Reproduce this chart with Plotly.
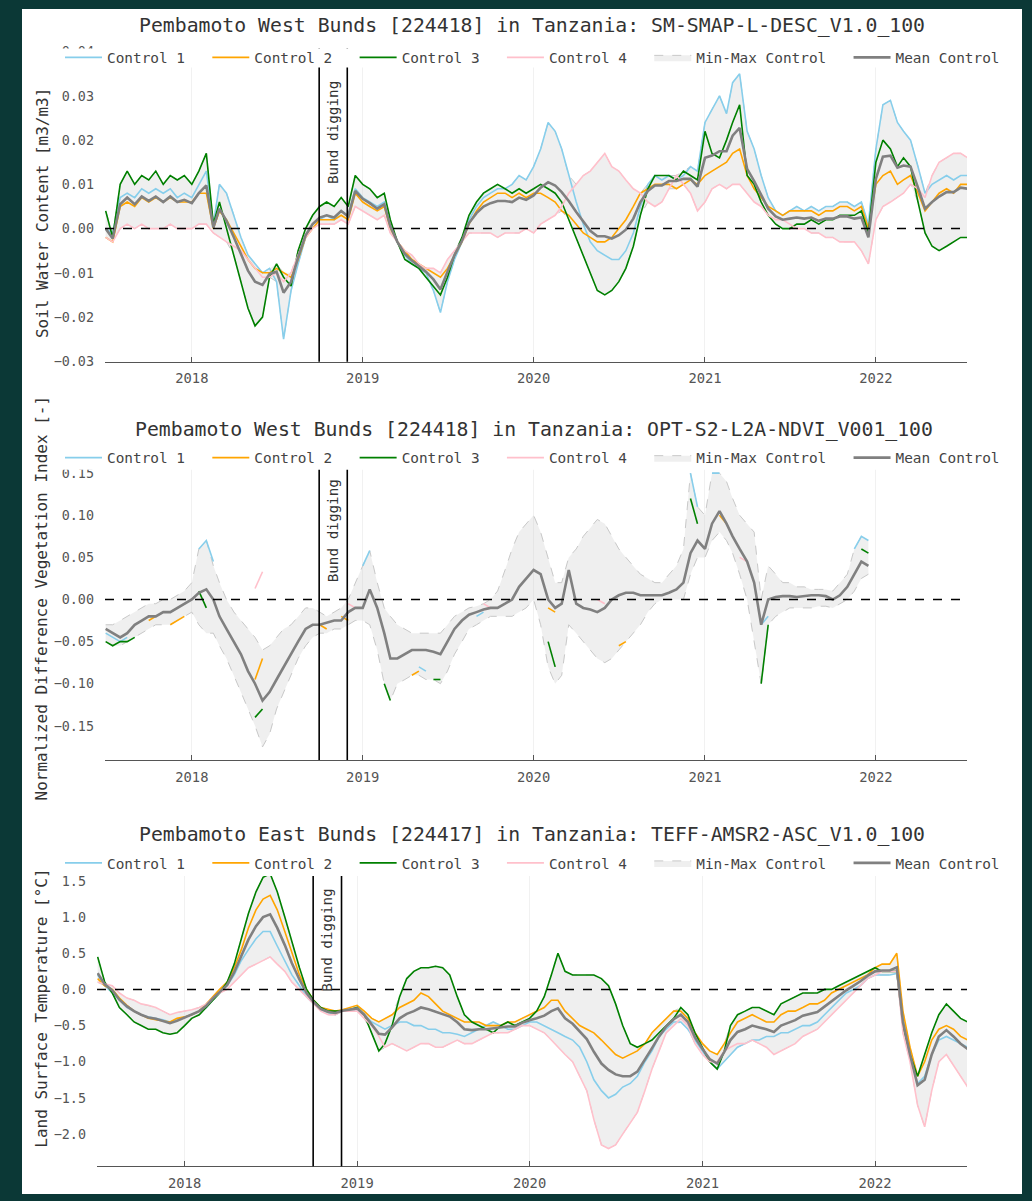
import numpy as np
import pandas as pd
import plotly.graph_objects as go

FIG_W, FIG_H = 1032, 1201
MONO = "DejaVu Sans Mono"
FRAME = "#0b3836"

# Semi-monthly sampling dates (1st and 16th of each month)
month_starts = pd.date_range("2017-07-01", "2022-07-01", freq="MS")
dates = []
for m in month_starts:
    dates.append(m)
    dates.append(m + pd.Timedelta(days=15))
dates = pd.DatetimeIndex(dates)

control_names = ["Control 1", "Control 2", "Control 3", "Control 4"]
control_colors = ["#87ceeb", "#ffa500", "#008000", "#ffc0cb"]
bund_start, bund_end = "2018-09-30", "2018-11-29"
year_ticks = ["2018-01-01", "2019-01-01", "2020-01-01", "2021-01-01", "2022-01-01"]
year_labels = ["2018", "2019", "2020", "2021", "2022"]

titles = [
    "Pembamoto West Bunds [224418] in Tanzania: SM-SMAP-L-DESC_V1.0_100",
    "Pembamoto West Bunds [224418] in Tanzania: OPT-S2-L2A-NDVI_V001_100",
    "Pembamoto East Bunds [224417] in Tanzania: TEFF-AMSR2-ASC_V1.0_100",
]
y_titles = [
    "Soil Water Content [m3/m3]",
    "Normalized Difference Vegetation Index [-]",
    "Land Surface Temperature [°C]",
]

# ---------------- Soil moisture (SMAP) ----------------
sm_c1 = [0.000, -0.001, 0.007, 0.008, 0.007, 0.009, 0.008, 0.009, 0.008, 0.009, 0.007, 0.008,
         0.007, 0.010, 0.013, 0.001, 0.010, 0.008, 0.003, -0.002, -0.006, -0.008, -0.010, -0.009,
         -0.012, -0.025, -0.014, -0.008, -0.002, 0.001, 0.002, 0.003, 0.002, 0.004, 0.003, 0.009,
         0.007, 0.006, 0.005, 0.006, 0.001, -0.003, -0.006, -0.008, -0.009, -0.010, -0.014, -0.019,
         -0.012, -0.007, -0.003, 0.002, 0.005, 0.007, 0.008, 0.009, 0.009, 0.010, 0.012, 0.011,
         0.014, 0.018, 0.024, 0.022, 0.018, 0.012, 0.006, 0.001, -0.003, -0.005, -0.006, -0.007,
         -0.007, -0.005, -0.001, 0.005, 0.010, 0.012, 0.011, 0.012, 0.011, 0.012, 0.014, 0.013,
         0.024, 0.027, 0.030, 0.026, 0.033, 0.035, 0.022, 0.018, 0.012, 0.007, 0.004, 0.003,
         0.004, 0.005, 0.004, 0.005, 0.004, 0.005, 0.005, 0.006, 0.006, 0.005, 0.006, 0.001,
         0.018, 0.028, 0.029, 0.024, 0.022, 0.020, 0.014, 0.008, 0.010, 0.011, 0.012, 0.011,
         0.012, 0.012]
sm_c2 = [-0.002, -0.003, 0.005, 0.006, 0.005, 0.007, 0.006, 0.007, 0.006, 0.007, 0.006, 0.006,
         0.006, 0.008, 0.008, 0.000, 0.004, 0.002, -0.001, -0.004, -0.007, -0.009, -0.010, -0.010,
         -0.009, -0.010, -0.011, -0.007, -0.002, 0.000, 0.002, 0.002, 0.002, 0.003, 0.002, 0.008,
         0.006, 0.005, 0.004, 0.005, 0.000, -0.003, -0.005, -0.007, -0.008, -0.009, -0.010, -0.011,
         -0.009, -0.006, -0.003, 0.001, 0.004, 0.006, 0.007, 0.008, 0.008, 0.007, 0.008, 0.007,
         0.008, 0.008, 0.007, 0.006, 0.004, 0.003, 0.001, -0.001, -0.002, -0.003, -0.003, -0.002,
         0.000, 0.002, 0.005, 0.008, 0.009, 0.010, 0.010, 0.010, 0.009, 0.010, 0.011, 0.010,
         0.012, 0.013, 0.014, 0.015, 0.017, 0.018, 0.012, 0.009, 0.007, 0.005, 0.004, 0.003,
         0.004, 0.004, 0.004, 0.004, 0.003, 0.004, 0.004, 0.005, 0.005, 0.004, 0.005, 0.000,
         0.010, 0.012, 0.013, 0.010, 0.011, 0.012, 0.008, 0.004, 0.006, 0.008, 0.009, 0.008,
         0.010, 0.010]
sm_c3 = [0.004, -0.002, 0.010, 0.013, 0.010, 0.012, 0.011, 0.013, 0.010, 0.012, 0.011, 0.012,
         0.010, 0.013, 0.017, 0.001, 0.006, 0.000, -0.006, -0.012, -0.018, -0.022, -0.020, -0.011,
         -0.008, -0.011, -0.013, -0.005, 0.000, 0.003, 0.005, 0.006, 0.005, 0.007, 0.005, 0.012,
         0.010, 0.009, 0.007, 0.008, 0.002, -0.003, -0.007, -0.008, -0.009, -0.011, -0.013, -0.015,
         -0.011, -0.006, -0.002, 0.003, 0.006, 0.008, 0.009, 0.010, 0.009, 0.008, 0.009, 0.008,
         0.009, 0.010, 0.009, 0.008, 0.006, 0.002, -0.002, -0.006, -0.010, -0.014, -0.015, -0.014,
         -0.012, -0.009, -0.004, 0.003, 0.009, 0.012, 0.012, 0.012, 0.011, 0.013, 0.012, 0.011,
         0.022, 0.017, 0.016, 0.020, 0.024, 0.028, 0.012, 0.010, 0.006, 0.003, 0.001, 0.000,
         0.000, 0.001, 0.001, 0.002, 0.001, 0.002, 0.002, 0.003, 0.003, 0.003, 0.004, -0.001,
         0.015, 0.020, 0.018, 0.014, 0.016, 0.014, 0.006, -0.001, -0.004, -0.005, -0.004, -0.003,
         -0.002, -0.002]
sm_c4 = [-0.002, -0.003, 0.000, 0.001, 0.000, 0.001, 0.000, 0.000, 0.000, 0.001, 0.000, 0.000,
         0.000, 0.001, 0.001, -0.001, -0.002, -0.003, -0.004, -0.005, -0.007, -0.009, -0.011, -0.011,
         -0.010, -0.012, -0.010, -0.006, -0.002, 0.000, 0.001, 0.001, 0.001, 0.002, 0.001, 0.005,
         0.004, 0.003, 0.002, 0.003, -0.001, -0.003, -0.005, -0.006, -0.008, -0.009, -0.009, -0.010,
         -0.007, -0.005, -0.003, -0.001, -0.001, -0.001, -0.001, -0.002, -0.001, -0.001, -0.001, 0.000,
         -0.001, 0.001, 0.002, 0.003, 0.005, 0.008, 0.010, 0.012, 0.013, 0.015, 0.017, 0.014,
         0.013, 0.011, 0.009, 0.008, 0.006, 0.005, 0.006, 0.009, 0.012, 0.010, 0.008, 0.004,
         0.006, 0.009, 0.010, 0.009, 0.010, 0.010, 0.008, 0.006, 0.005, 0.003, 0.002, 0.002,
         0.001, 0.000, 0.000, -0.001, -0.001, -0.002, -0.002, -0.003, -0.003, -0.003, -0.005, -0.008,
         0.002, 0.005, 0.006, 0.007, 0.008, 0.010, 0.009, 0.007, 0.012, 0.015, 0.016, 0.017,
         0.017, 0.016]

# ---------------- NDVI (Sentinel-2) ----------------
ndvi_mean = [-0.035, -0.040, -0.045, -0.040, -0.030, -0.025, -0.020, -0.020, -0.015, -0.015, -0.010, -0.005,
             0.000, 0.008, 0.012, 0.000, -0.020, -0.035, -0.050, -0.065, -0.085, -0.100, -0.120, -0.110,
             -0.095, -0.080, -0.065, -0.050, -0.035, -0.030, -0.030, -0.028, -0.025, -0.025, -0.015, -0.010,
             -0.010, 0.012, -0.010, -0.040, -0.070, -0.070, -0.065, -0.060, -0.060, -0.060, -0.062, -0.065,
             -0.050, -0.035, -0.025, -0.018, -0.015, -0.012, -0.010, -0.010, -0.005, 0.000, 0.015, 0.025,
             0.035, 0.030, 0.000, -0.010, -0.005, 0.035, -0.005, -0.010, -0.012, -0.015, -0.010, 0.000,
             0.005, 0.008, 0.008, 0.005, 0.005, 0.005, 0.005, 0.008, 0.012, 0.020, 0.055, 0.070,
             0.060, 0.090, 0.105, 0.090, 0.075, 0.060, 0.045, 0.020, -0.030, 0.000, 0.003, 0.004,
             0.004, 0.003, 0.004, 0.005, 0.005, 0.004, 0.000, 0.005, 0.015, 0.030, 0.045, 0.040]
ndvi_low = [-0.050, -0.055, -0.055, -0.050, -0.045, -0.040, -0.035, -0.030, -0.030, -0.030, -0.025, -0.020,
            -0.015, -0.030, -0.040, -0.040, -0.055, -0.070, -0.090, -0.110, -0.130, -0.150, -0.175, -0.160,
            -0.130, -0.110, -0.090, -0.070, -0.055, -0.045, -0.040, -0.040, -0.035, -0.035, -0.030, -0.025,
            -0.025, -0.030, -0.060, -0.100, -0.120, -0.100, -0.095, -0.090, -0.090, -0.095, -0.095, -0.100,
            -0.085, -0.065, -0.050, -0.035, -0.030, -0.025, -0.020, -0.020, -0.020, -0.020, -0.015, -0.010,
            0.000, -0.030, -0.080, -0.100, -0.090, -0.030, -0.040, -0.050, -0.060, -0.070, -0.075, -0.070,
            -0.060, -0.050, -0.040, -0.030, -0.015, -0.005, 0.000, 0.000, 0.000, 0.000, 0.030, 0.050,
            0.050, 0.070, 0.080, 0.070, 0.055, 0.030, 0.000, -0.050, -0.100, -0.030, -0.020, -0.015,
            -0.010, -0.010, -0.010, -0.010, -0.008, -0.008, -0.010, -0.005, 0.000, 0.010, 0.025, 0.030]
ndvi_high = [-0.030, -0.030, -0.025, -0.020, -0.015, -0.010, -0.005, -0.005, 0.000, 0.000, 0.005, 0.010,
             0.020, 0.060, 0.070, 0.040, 0.020, 0.000, -0.015, -0.025, -0.035, -0.045, -0.060, -0.055,
             -0.045, -0.035, -0.030, -0.020, -0.010, -0.010, -0.015, -0.020, -0.015, -0.010, 0.000, 0.020,
             0.040, 0.058, 0.020, -0.010, -0.020, -0.030, -0.035, -0.040, -0.040, -0.040, -0.040, -0.040,
             -0.030, -0.020, -0.015, -0.010, -0.008, -0.005, 0.000, 0.010, 0.035, 0.060, 0.080, 0.090,
             0.100, 0.080, 0.050, 0.020, 0.020, 0.050, 0.060, 0.075, 0.085, 0.095, 0.090, 0.075,
             0.060, 0.050, 0.040, 0.030, 0.025, 0.020, 0.020, 0.030, 0.040, 0.060, 0.150, 0.110,
             0.100, 0.150, 0.150, 0.140, 0.120, 0.100, 0.090, 0.080, 0.000, 0.040, 0.030, 0.020,
             0.020, 0.015, 0.015, 0.012, 0.012, 0.012, 0.010, 0.020, 0.030, 0.060, 0.075, 0.070]

# cloud-free fragments of the individual controls (None breaks the line)
ndvi_c1_dates = ["2017-07-01", "2017-07-16", "2017-08-01", "2017-08-16", None,
                 "2018-01-16", "2018-02-01", "2018-02-16", None,
                 "2019-01-01", "2019-01-16", None,
                 "2019-05-01", "2019-05-16", None,
                 "2019-09-01", "2019-09-16", None,
                 "2020-12-01", "2020-12-16", None,
                 "2021-01-16", "2021-02-01", None,
                 "2021-05-01", "2021-05-16", None,
                 "2021-11-16", "2021-12-01", "2021-12-16"]
ndvi_c1 = [-0.040, -0.045, -0.050, -0.045, None,
           0.060, 0.070, 0.045, None,
           0.040, 0.058, None,
           -0.080, -0.085, None,
           -0.020, -0.015, None,
           0.150, 0.110, None,
           0.150, 0.150, None,
           -0.030, -0.020, None,
           0.060, 0.075, 0.070]
ndvi_c2_dates = ["2017-10-01", "2017-10-16", None,
                 "2017-11-16", "2017-12-01", "2017-12-16", None,
                 "2018-05-16", "2018-06-01", None,
                 "2018-10-01", "2018-10-16", None,
                 "2018-11-16", "2018-12-01", None,
                 "2019-04-16", "2019-05-01", None,
                 "2020-02-01", "2020-02-16", None,
                 "2020-07-01", "2020-07-16", None,
                 "2021-02-01", "2021-02-16"]
ndvi_c2 = [-0.025, -0.020, None,
           -0.030, -0.025, -0.020, None,
           -0.095, -0.070, None,
           -0.030, -0.035, None,
           -0.020, -0.025, None,
           -0.090, -0.085, None,
           -0.010, -0.015, None,
           -0.055, -0.050, None,
           0.100, 0.090]
ndvi_c3_dates = ["2017-07-01", "2017-07-16", "2017-08-01", "2017-08-16", "2017-09-01", None,
                 "2018-01-16", "2018-02-01", None,
                 "2018-05-16", "2018-06-01", None,
                 "2019-02-16", "2019-03-01", None,
                 "2019-06-01", "2019-06-16", None,
                 "2020-02-01", "2020-02-16", None,
                 "2020-12-01", "2020-12-16", None,
                 "2021-05-01", "2021-05-16", None,
                 "2021-12-01", "2021-12-16"]
ndvi_c3 = [-0.050, -0.055, -0.050, -0.050, -0.045, None,
           0.010, -0.010, None,
           -0.140, -0.130, None,
           -0.100, -0.120, None,
           -0.095, -0.095, None,
           -0.050, -0.080, None,
           0.120, 0.090, None,
           -0.100, -0.030, None,
           0.060, 0.055]
ndvi_c4_dates = ["2018-05-16", "2018-06-01", None,
                 "2018-12-01", "2018-12-16", None,
                 "2019-09-16", "2019-10-01", None,
                 "2020-05-16", "2020-06-01", None,
                 "2021-03-16", "2021-04-01"]
ndvi_c4 = [0.013, 0.033, None,
           -0.005, -0.010, None,
           -0.005, -0.010, None,
           0.000, -0.005, None,
           0.050, 0.045]

# ---------------- Land surface temperature (AMSR2) ----------------
lst_c1 = [0.20, 0.05, -0.05, -0.15, -0.25, -0.30, -0.35, -0.38, -0.40, -0.42, -0.45, -0.42,
          -0.38, -0.35, -0.30, -0.25, -0.15, -0.05, 0.05, 0.20, 0.40, 0.55, 0.70, 0.80,
          0.80, 0.60, 0.40, 0.20, 0.05, -0.10, -0.20, -0.28, -0.32, -0.35, -0.30, -0.30,
          -0.28, -0.35, -0.45, -0.50, -0.55, -0.50, -0.45, -0.45, -0.50, -0.50, -0.55, -0.55,
          -0.60, -0.60, -0.62, -0.65, -0.60, -0.55, -0.50, -0.45, -0.50, -0.55, -0.55, -0.50,
          -0.45, -0.45, -0.50, -0.55, -0.60, -0.65, -0.70, -0.80, -1.00, -1.25, -1.40, -1.50,
          -1.45, -1.35, -1.30, -1.20, -1.00, -0.85, -0.65, -0.55, -0.45, -0.45, -0.55, -0.70,
          -0.85, -1.00, -1.10, -1.00, -0.90, -0.80, -0.75, -0.70, -0.70, -0.65, -0.65, -0.60,
          -0.60, -0.55, -0.50, -0.50, -0.45, -0.35, -0.25, -0.15, -0.05, 0.00, 0.05, 0.15,
          0.20, 0.20, 0.20, 0.22, -0.40, -0.90, -1.30, -1.20, -0.90, -0.70, -0.65, -0.70,
          -0.75, -0.80]
lst_c2 = [0.15, 0.05, 0.00, -0.12, -0.22, -0.30, -0.35, -0.40, -0.42, -0.43, -0.45, -0.40,
          -0.38, -0.35, -0.30, -0.20, -0.10, 0.00, 0.10, 0.30, 0.55, 0.85, 1.10, 1.25,
          1.30, 1.10, 0.80, 0.50, 0.20, 0.00, -0.15, -0.25, -0.28, -0.30, -0.28, -0.25,
          -0.22, -0.30, -0.40, -0.45, -0.40, -0.35, -0.25, -0.20, -0.15, -0.05, -0.10, -0.20,
          -0.30, -0.35, -0.40, -0.45, -0.45, -0.45, -0.50, -0.50, -0.50, -0.45, -0.45, -0.40,
          -0.35, -0.30, -0.25, -0.15, -0.15, -0.30, -0.40, -0.50, -0.55, -0.60, -0.70, -0.80,
          -0.90, -0.95, -0.90, -0.85, -0.75, -0.60, -0.50, -0.40, -0.30, -0.30, -0.40, -0.60,
          -0.75, -0.85, -0.90, -0.75, -0.60, -0.45, -0.40, -0.35, -0.40, -0.45, -0.45, -0.35,
          -0.30, -0.30, -0.25, -0.20, -0.20, -0.15, -0.05, 0.00, 0.05, 0.10, 0.15, 0.20,
          0.30, 0.35, 0.35, 0.50, -0.30, -0.80, -1.20, -1.00, -0.70, -0.55, -0.50, -0.55,
          -0.65, -0.70]
lst_c3 = [0.45, 0.10, -0.05, -0.25, -0.35, -0.45, -0.50, -0.55, -0.55, -0.60, -0.62, -0.60,
          -0.50, -0.40, -0.35, -0.25, -0.15, -0.05, 0.10, 0.35, 0.70, 1.05, 1.35, 1.55,
          1.60, 1.35, 1.00, 0.65, 0.30, 0.00, -0.15, -0.25, -0.30, -0.30, -0.30, -0.28,
          -0.25, -0.35, -0.60, -0.85, -0.75, -0.50, -0.10, 0.15, 0.25, 0.30, 0.30, 0.32,
          0.30, 0.20, -0.10, -0.35, -0.45, -0.50, -0.55, -0.60, -0.50, -0.45, -0.50, -0.45,
          -0.40, -0.30, -0.10, 0.20, 0.50, 0.25, 0.20, 0.20, 0.20, 0.20, 0.15, 0.05,
          -0.20, -0.50, -0.75, -0.80, -0.75, -0.70, -0.60, -0.50, -0.40, -0.25, -0.35, -0.60,
          -0.80, -1.00, -1.10, -0.85, -0.50, -0.35, -0.30, -0.25, -0.25, -0.30, -0.35, -0.20,
          -0.15, -0.10, -0.05, -0.05, -0.05, 0.00, 0.00, 0.05, 0.10, 0.15, 0.20, 0.25,
          0.30, 0.25, 0.25, 0.25, -0.50, -0.90, -1.20, -0.90, -0.60, -0.35, -0.20, -0.30,
          -0.40, -0.45]
lst_c4 = [0.10, 0.08, 0.05, -0.05, -0.12, -0.15, -0.20, -0.22, -0.25, -0.30, -0.35, -0.32,
          -0.30, -0.28, -0.25, -0.20, -0.12, -0.05, 0.00, 0.10, 0.20, 0.30, 0.35, 0.40,
          0.45, 0.35, 0.25, 0.10, 0.00, -0.10, -0.20, -0.30, -0.35, -0.35, -0.30, -0.30,
          -0.30, -0.40, -0.50, -0.65, -0.80, -0.75, -0.80, -0.85, -0.80, -0.75, -0.75, -0.80,
          -0.80, -0.75, -0.70, -0.75, -0.75, -0.70, -0.65, -0.60, -0.60, -0.60, -0.55, -0.50,
          -0.50, -0.55, -0.60, -0.70, -0.80, -0.90, -1.00, -1.20, -1.40, -1.80, -2.15, -2.20,
          -2.15, -2.00, -1.85, -1.70, -1.40, -1.10, -0.85, -0.60, -0.50, -0.40, -0.50, -0.75,
          -0.90, -1.00, -1.00, -0.85, -0.80, -0.75, -0.75, -0.70, -0.75, -0.80, -0.90, -0.85,
          -0.80, -0.75, -0.65, -0.60, -0.55, -0.45, -0.35, -0.25, -0.15, -0.05, 0.05, 0.15,
          0.20, 0.25, 0.25, 0.25, -0.60, -1.00, -1.60, -1.90, -1.40, -1.00, -0.90, -1.05,
          -1.20, -1.35]

# ---------------- Figure geometry (pixels from top of page) ----------------
panels = [
    dict(left=105, top=45, bottom=361, yrange=[-0.0301, 0.0407], dtick=0.01, fmt=".2f",
         title_y=22, title_x=532, legend_y=54, cover=(45, 64), ylabel_y=211, bund_y=130),
    dict(left=105, top=465, bottom=763, yrange=[-0.1906, 0.160], dtick=0.05, fmt=".2f",
         title_y=429, title_x=534, legend_y=458, cover=(449, 470), ylabel_y=600, bund_y=532),
    dict(left=97, top=877, bottom=1173, yrange=[-2.445, 1.610], dtick=0.5, fmt=".1f",
         title_y=838, title_x=532, legend_y=867, cover=(858, 880), ylabel_y=1014, bund_y=945),
]
PLOT_RIGHT = 967
X_RANGE = ["2017-06-29 14:00", "2022-07-14 14:00"]


def py(p):
    return 1 - p / FIG_H


def px(p):
    return p / FIG_W


fig = go.Figure()
pad = "\u00a0" * 2


def add_panel(k, band_x, low, high, mean_x, mean, controls):
    xa = "x" if k == 0 else f"x{k + 1}"
    ya = "y" if k == 0 else f"y{k + 1}"
    leg = "legend" if k == 0 else f"legend{k + 1}"
    edge = dict(color="#c8c8c8", width=1, dash="dash")
    fig.add_trace(go.Scatter(x=band_x, y=high, mode="lines", line=edge, xaxis=xa, yaxis=ya,
                             showlegend=False, legend=leg, connectgaps=True, hoverinfo="skip"))
    fig.add_trace(go.Scatter(x=band_x, y=low, mode="lines", line=edge, fill="tonexty",
                             fillcolor="rgba(205,205,205,0.32)", xaxis=xa, yaxis=ya,
                             name="Min-Max Control" + pad, legend=leg, legendrank=5,
                             connectgaps=True, hoverinfo="skip"))
    for i, (cx, cy) in enumerate(controls):
        fig.add_trace(go.Scatter(x=cx, y=cy, mode="lines",
                                 line=dict(color=control_colors[i], width=1.6),
                                 xaxis=xa, yaxis=ya, name=control_names[i] + pad,
                                 legend=leg, legendrank=i + 1, connectgaps=False))
    fig.add_trace(go.Scatter(x=mean_x, y=mean, mode="lines",
                             line=dict(color="#808080", width=2.6),
                             xaxis=xa, yaxis=ya, name="Mean Control", legend=leg,
                             legendrank=6, connectgaps=True))


# soil moisture: band and mean from the four controls
sm = np.array([sm_c1, sm_c2, sm_c3, sm_c4])
add_panel(0, dates, sm.min(axis=0), sm.max(axis=0), dates, sm.mean(axis=0),
          [(dates, c) for c in (sm_c1, sm_c2, sm_c3, sm_c4)])

# NDVI: sparse observations
ndvi_dates = dates[:len(ndvi_mean)]
add_panel(1, ndvi_dates, ndvi_low, ndvi_high, ndvi_dates, ndvi_mean,
          [(ndvi_c1_dates, ndvi_c1), (ndvi_c2_dates, ndvi_c2),
           (ndvi_c3_dates, ndvi_c3), (ndvi_c4_dates, ndvi_c4)])

# land surface temperature
lst = np.array([lst_c1, lst_c2, lst_c3, lst_c4])
add_panel(2, dates, lst.min(axis=0), lst.max(axis=0), dates, lst.mean(axis=0),
          [(dates, c) for c in (lst_c1, lst_c2, lst_c3, lst_c4)])

layout = dict(
    width=FIG_W, height=FIG_H,
    margin=dict(l=0, r=0, t=0, b=0),
    paper_bgcolor=FRAME,
    plot_bgcolor="rgba(0,0,0,0)",
    font=dict(family=MONO, color="#444"),
    hovermode=False,
    shapes=[dict(type="rect", xref="paper", yref="paper", x0=px(22), x1=px(1022),
                 y0=0, y1=py(5), fillcolor="white", line=dict(width=0), layer="below")],
    annotations=[],
)

for k, p in enumerate(panels):
    sfx = "" if k == 0 else str(k + 1)
    layout["xaxis" + sfx] = dict(
        domain=[px(p["left"]), px(PLOT_RIGHT)], anchor="y" + sfx, type="date",
        range=X_RANGE, tickvals=year_ticks, ticktext=year_labels,
        ticks="inside", ticklen=5, tickcolor="#555", tickwidth=1,
        showline=True, linecolor="#555", linewidth=1.2,
        showgrid=True, gridcolor="#f1f1f1", gridwidth=1, zeroline=False,
        tickfont=dict(family=MONO, size=13.8, color="#555"), ticklabelstandoff=4,
    )
    layout["yaxis" + sfx] = dict(
        domain=[py(p["bottom"]), py(p["top"])], anchor="x" + sfx,
        range=p["yrange"], dtick=p["dtick"], tick0=0, tickformat=p["fmt"],
        showgrid=False, zeroline=False, showline=False, ticks="",
        tickfont=dict(family=MONO, size=13.4, color="#555"), ticklabelstandoff=10,
    )
    layout["legend" + sfx] = dict(
        orientation="h", x=px(60), xanchor="left", y=py(p["legend_y"]), yanchor="middle",
        bgcolor="rgba(0,0,0,0)", borderwidth=0, font=dict(family=MONO, size=14.4, color="#444"),
        itemwidth=37, traceorder="normal",
    )
    xa = "x" + sfx
    ya = "y" + sfx
    # zero reference line
    layout["shapes"].append(dict(type="line", xref=xa + " domain", yref=ya, x0=0, x1=1,
                                 y0=0, y1=0, line=dict(color="black", width=1.5, dash="dash")))
    # bund digging period
    for d in (bund_start, bund_end):
        layout["shapes"].append(dict(type="line", xref=xa, yref=ya + " domain", x0=d, x1=d,
                                     y0=0, y1=1, line=dict(color="black", width=1.6)))
    # white strip behind the legend row
    layout["shapes"].append(dict(type="rect", xref="paper", yref="paper",
                                 x0=px(52), x1=px(1012), y0=py(p["cover"][1]), y1=py(p["cover"][0]),
                                 fillcolor="white", line=dict(width=0), layer="above"))
    layout["annotations"].append(dict(
        text="Bund digging", xref=xa, yref="paper", x="2018-10-30", y=py(p["bund_y"]),
        textangle=-90, showarrow=False, xanchor="center", yanchor="middle",
        font=dict(family=MONO, size=14.3, color="#333")))
    layout["annotations"].append(dict(
        text=titles[k], xref="paper", yref="paper", x=px(p["title_x"]), y=py(p["title_y"]),
        showarrow=False, xanchor="center", yanchor="middle",
        font=dict(family=MONO, size=19.8, color="#333")))
    layout["annotations"].append(dict(
        text=y_titles[k], xref="paper", yref="paper", x=px(42), y=py(p["ylabel_y"]),
        textangle=-90, showarrow=False, xanchor="center", yanchor="middle",
        font=dict(family=MONO, size=16, color="#333")))

fig.update_layout(**layout)
fig.write_html("out.html", config={"displayModeBar": False})
